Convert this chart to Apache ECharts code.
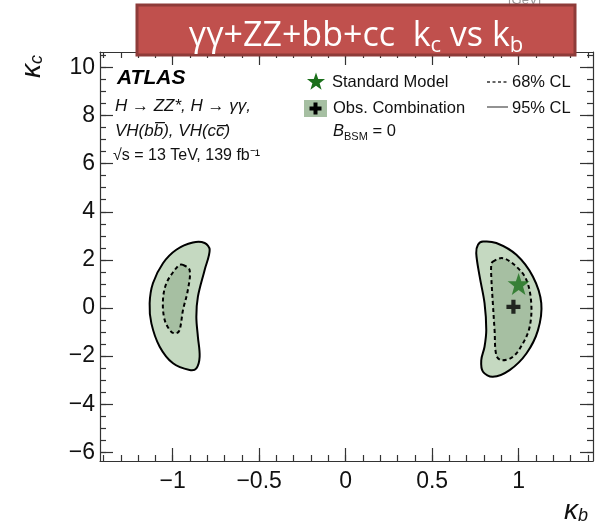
<!DOCTYPE html>
<html><head><meta charset="utf-8">
<script src="https://cdn.jsdelivr.net/npm/echarts@6/dist/echarts.min.js"></script>
<style>html,body{margin:0;padding:0;background:#fff}#c{width:604px;height:527px}</style>
</head><body><div id="c"></div>
<script>
// ---- data ----
const xRange = [-1.42, 1.43];
const yRange = [-6.36, 10.64];
const xMajorTicks = [-1, -0.5, 0, 0.5, 1];
const yMajorTicks = [-6, -4, -2, 0, 2, 4, 6, 8, 10];
const xMinorStep = 0.1;
const yMinorStep = 0.5;

const left95 = [[-0.815,2.70],[-0.786,2.42],[-0.815,1.58],[-0.854,0.47],[-0.863,-0.36],[-0.854,-1.20],[-0.844,-2.03],[-0.863,-2.51],[-0.902,-2.58],[-0.998,-2.30],[-1.075,-1.61],[-1.123,-0.64],[-1.133,0.20],[-1.114,1.03],[-1.056,1.86],[-0.979,2.42],[-0.883,2.72]];
const left68 = [[-0.940,1.79],[-0.902,1.58],[-0.912,0.75],[-0.940,-0.08],[-0.960,-0.92],[-0.979,-1.05],[-1.008,-0.99],[-1.046,-0.50],[-1.056,0.33],[-1.036,1.03],[-0.988,1.58],[-0.960,1.79]];
const right95 = [[0.794,2.76],[0.871,2.70],[0.987,2.21],[1.083,1.30],[1.131,0.20],[1.112,-0.92],[1.045,-1.89],[0.948,-2.58],[0.851,-2.86],[0.794,-2.65],[0.784,-2.17],[0.803,-1.61],[0.813,-0.92],[0.803,0.20],[0.775,1.30],[0.755,2.28],[0.765,2.63]];
const right68 = [[0.851,1.93],[0.909,2.07],[0.987,1.72],[1.045,1.17],[1.073,0.20],[1.064,-0.78],[1.025,-1.47],[0.967,-2.03],[0.900,-2.17],[0.871,-1.96],[0.861,-0.92],[0.851,0.20],[0.842,1.30],[0.842,1.79]];
const standardModel = [[1.0, 1.0]];
const bestFit = [[0.97, 0.05]];

// ---- build ----
function steps(a, b, s) { const r = []; for (let v = Math.ceil(a / s - 1e-9); v * s <= b + 1e-9; v++) r.push(+(v * s).toFixed(4)); return r; }
const xMinorTicks = steps(xRange[0], xRange[1], xMinorStep);
const yMinorTicks = steps(yRange[0], yRange[1], yMinorStep);

const FILL95 = '#c5d9c1', FILL68 = '#a6bfa2', STAR = '#1b701b';
const FONT = '"Liberation Sans", Arial, sans-serif';
const minus = v => String(v).replace('-', '\u2212');
const gridBox = { left: 100, right: 11, top: 52, bottom: 66 };
const axisColor = '#333';

function xAx(grid, pos, major, showLabel) {
  return {
    type: 'value', gridIndex: grid, position: pos, min: xRange[0], max: xRange[1],
    axisLine: { show: major, onZero: false, lineStyle: { color: axisColor, width: 1.2 } },
    axisTick: { show: true, inside: true, length: major ? 13 : 6, customValues: major ? xMajorTicks : xMinorTicks, lineStyle: { color: axisColor, width: 1.2 } },
    axisLabel: { show: showLabel, customValues: xMajorTicks, formatter: minus, fontSize: 23, color: '#111', fontFamily: FONT, margin: 9 },
    splitLine: { show: false }
  };
}
function yAx(grid, pos, major, showLabel) {
  return {
    type: 'value', gridIndex: grid, position: pos, min: yRange[0], max: yRange[1],
    axisLine: { show: major, onZero: false, lineStyle: { color: axisColor, width: 1.2 } },
    axisTick: { show: true, inside: true, length: major ? 13 : 6, customValues: major ? yMajorTicks : yMinorTicks, lineStyle: { color: axisColor, width: 1.2 } },
    axisLabel: { show: showLabel, customValues: yMajorTicks, formatter: minus, fontSize: 23, color: '#111', fontFamily: FONT, margin: 5 },
    splitLine: { show: false }
  };
}

function poly(points, fill, dashed, z) {
  return {
    type: 'custom', xAxisIndex: 0, yAxisIndex: 0, data: [[points[0][0], points[0][1]]], silent: true, z: z, clip: true,
    renderItem: (params, api) => ({
      type: 'polygon',
      shape: { points: points.map(p => api.coord(p)), smooth: 0.35 },
      style: { fill: fill, stroke: '#000', lineWidth: 2, lineDash: dashed ? [4, 3] : null }
    })
  };
}

const starPath = 'path://M0,-10 L2.35,-3.24 L9.51,-3.09 L3.8,1.24 L5.88,8.09 L0,4 L-5.88,8.09 L-3.8,1.24 L-9.51,-3.09 L-2.35,-3.24 Z';
const crossPath = 'path://M-0.9,-3 L0.9,-3 L0.9,-0.9 L3,-0.9 L3,0.9 L0.9,0.9 L0.9,3 L-0.9,3 L-0.9,0.9 L-3,0.9 L-3,-0.9 L-0.9,-0.9 Z';

function starPts(cx, cy, R) {
  const pts = [];
  for (let i = 0; i < 10; i++) {
    const r = i % 2 === 0 ? R : R * 0.4;
    const a = -Math.PI / 2 + i * Math.PI / 5;
    pts.push([cx + r * Math.cos(a), cy + r * Math.sin(a)]);
  }
  return pts;
}

const chart = echarts.init(document.getElementById('c'), null, { renderer: 'canvas' });
chart.setOption({
  animation: false,
  backgroundColor: '#fff',
  grid: [Object.assign({}, gridBox), Object.assign({}, gridBox)],
  xAxis: [xAx(0, 'bottom', true, true), xAx(0, 'top', true, false), xAx(1, 'bottom', false, false), xAx(1, 'top', false, false)],
  yAxis: [yAx(0, 'left', true, true), yAx(0, 'right', true, false), yAx(1, 'left', false, false), yAx(1, 'right', false, false)],
  series: [
    poly(left95, FILL95, false, 2),
    poly(left68, FILL68, true, 3),
    poly(right95, FILL95, false, 2),
    poly(right68, FILL68, true, 3),
    { type: 'scatter', xAxisIndex: 0, yAxisIndex: 0, data: standardModel, symbol: starPath, symbolSize: 22, itemStyle: { color: STAR }, z: 5, silent: true },
    { type: 'scatter', xAxisIndex: 0, yAxisIndex: 0, data: bestFit, symbol: crossPath, symbolSize: 14, itemStyle: { color: '#000' }, z: 5, silent: true }
  ],
  graphic: [
    // faint remnant text above box
    { type: 'text', left: 508, top: -6, z: 50, style: { text: '[GeV]', font: '13px ' + FONT, fill: '#999' } },
    // title box
    { type: 'rect', shape: { x: 137, y: 5, width: 438, height: 50 }, z: 100, style: { fill: '#c0504d', stroke: '#8e3b39', lineWidth: 3 } },
    { type: 'text', x: 356, y: 19, z: 101, style: {
        text: '{m|γγ+ZZ+bb+cc  k}{s|c}{m| vs k}{s|b}', align: 'center', verticalAlign: 'top',
        rich: {
          m: { fontFamily: '"Open Sans", Lato, sans-serif', fontSize: 34, lineHeight: 34, fill: '#fff', verticalAlign: 'top' },
          s: { fontFamily: '"Open Sans", Lato, sans-serif', fontSize: 22, lineHeight: 22, fill: '#fff', verticalAlign: 'top', padding: [16, 0, 0, 0] }
        } } },
    // axis titles
    { type: 'text', x: 18, y: 78, rotation: Math.PI / 2, z: 20, style: {
        text: '{m|κ}{s|c}', align: 'left', verticalAlign: 'top',
        rich: {
          m: { fontFamily: FONT, fontStyle: 'italic', fontSize: 28, lineHeight: 28, fill: '#111', verticalAlign: 'top' },
          s: { fontFamily: FONT, fontStyle: 'italic', fontSize: 18, lineHeight: 18, fill: '#111', verticalAlign: 'top', padding: [10, 0, 0, 0] }
        } } },
    { type: 'text', x: 564, y: 497, z: 20, style: {
        text: '{m|κ}{s|b}', align: 'left', verticalAlign: 'top',
        rich: {
          m: { fontFamily: FONT, fontStyle: 'italic', fontSize: 28, lineHeight: 28, fill: '#111', verticalAlign: 'top' },
          s: { fontFamily: FONT, fontStyle: 'italic', fontSize: 18, lineHeight: 18, fill: '#111', verticalAlign: 'top', padding: [10, 0, 0, 0] }
        } } },
    // ATLAS label
    { type: 'text', x: 117, y: 78, z: 20, style: { text: 'ATLAS', font: 'italic bold 21px ' + FONT, fill: '#000', verticalAlign: 'middle' } },
    { type: 'text', x: 115, y: 106, z: 20, style: { text: 'H \u2192 ZZ*, H \u2192 γγ,', font: 'italic 17px ' + FONT, fill: '#111', verticalAlign: 'middle' } },
    { type: 'text', x: 115, y: 131, z: 20, style: { text: 'VH(bb\u0305), VH(cc\u0305)', font: 'italic 17px ' + FONT, fill: '#111', verticalAlign: 'middle' } },
    { type: 'text', x: 113, y: 156, z: 20, style: { text: '\u221As = 13 TeV, 139 fb\u207B\u00B9', font: '16px ' + FONT, fill: '#111', verticalAlign: 'middle' } },
    // legend
    { type: 'polygon', z: 20, shape: { points: starPts(316, 82, 9.5) }, style: { fill: STAR } },
    { type: 'text', x: 332, y: 82, z: 20, style: { text: 'Standard Model', font: '16.5px ' + FONT, fill: '#111', verticalAlign: 'middle' } },
    { type: 'rect', z: 20, shape: { x: 304, y: 100, width: 23, height: 17 }, style: { fill: FILL68 } },
    { type: 'rect', z: 21, shape: { x: 313.5, y: 102.5, width: 4, height: 12 }, style: { fill: '#000' } },
    { type: 'rect', z: 21, shape: { x: 309.5, y: 106.5, width: 12, height: 4 }, style: { fill: '#000' } },
    { type: 'text', x: 333, y: 108, z: 20, style: { text: 'Obs. Combination', font: '16.5px ' + FONT, fill: '#111', verticalAlign: 'middle' } },
    { type: 'text', x: 333, y: 123, z: 20, style: {
        text: '{b|B}{s|BSM}{m| = 0}', verticalAlign: 'top', align: 'left',
        rich: {
          b: { fontFamily: FONT, fontStyle: 'italic', fontSize: 16.5, lineHeight: 16, fill: '#111', verticalAlign: 'top' },
          s: { fontFamily: FONT, fontSize: 11, lineHeight: 11, fill: '#111', verticalAlign: 'top', padding: [8, 0, 0, 0] },
          m: { fontFamily: FONT, fontSize: 16.5, lineHeight: 16, fill: '#111', verticalAlign: 'top' }
        } } },
    { type: 'line', z: 20, shape: { x1: 487, y1: 82, x2: 508, y2: 82 }, style: { stroke: '#333', lineWidth: 1.3, lineDash: [3, 2.5] } },
    { type: 'text', x: 512, y: 82, z: 20, style: { text: '68% CL', font: '16.5px ' + FONT, fill: '#111', verticalAlign: 'middle' } },
    { type: 'line', z: 20, shape: { x1: 487, y1: 107, x2: 508, y2: 107 }, style: { stroke: '#777', lineWidth: 1.6 } },
    { type: 'text', x: 512, y: 108, z: 20, style: { text: '95% CL', font: '16.5px ' + FONT, fill: '#111', verticalAlign: 'middle' } }
  ]
});
</script>
</body></html>
